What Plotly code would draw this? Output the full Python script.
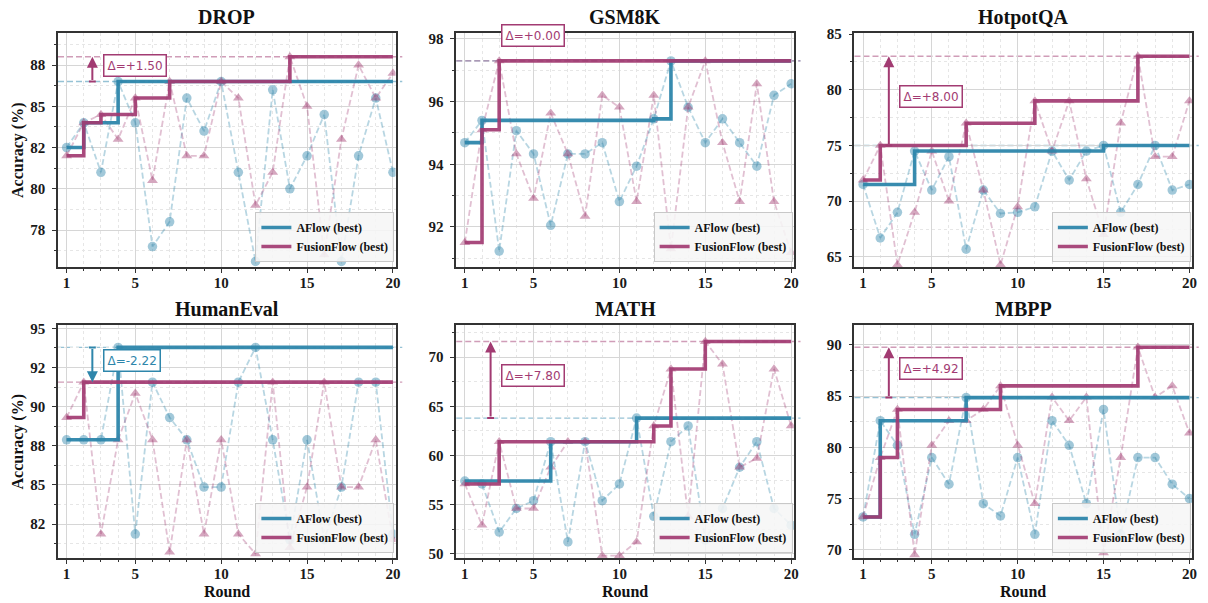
import numpy as np
import plotly.graph_objects as go

# ---------------- data ----------------
rounds = list(range(1, 21))
datasets = ["DROP", "GSM8K", "HotpotQA", "HumanEval", "MATH", "MBPP"]

drop_aflow = [82.5, 84.0, 81.0, 86.5, 84.0, 76.5, 78.0, 85.5, 83.5, 86.5,
              81.0, 75.6, 86.0, 80.0, 82.0, 84.5, 75.6, 82.0, 85.5, 81.0]
drop_fusion = [82.0, 84.0, 84.5, 83.0, 85.5, 80.5, 86.5, 82.0, 82.0, 86.5,
               85.5, 79.0, 81.0, 88.0, 85.0, 76.0, 83.0, 87.5, 85.5, 87.0]

gsm_aflow = [94.69, 95.40, 91.23, 95.07, 94.33, 92.05, 94.33, 94.33, 94.69, 92.81,
             93.94, 95.45, 97.30, 95.82, 94.69, 95.45, 94.69, 93.94, 96.20, 96.57]
gsm_fusion = [91.50, 95.10, 97.30, 94.33, 92.91, 95.63, 94.33, 92.34, 96.20, 95.82,
              92.81, 96.20, 91.30, 95.82, 97.30, 94.69, 92.81, 96.57, 92.81, 91.18]

hotpot_aflow = [71.5, 66.7, 69.0, 74.5, 71.0, 74.0, 65.7, 71.0, 68.9, 69.0,
                69.5, 74.5, 71.9, 74.5, 75.0, 69.0, 71.5, 75.0, 71.0, 71.5]
hotpot_fusion = [71.9, 75.0, 64.3, 69.0, 74.5, 70.0, 77.0, 71.0, 64.3, 69.5,
                 79.0, 74.5, 79.0, 72.0, 67.0, 77.0, 83.0, 74.0, 74.0, 79.0]

humaneval_aflow = [87.88, 87.88, 87.88, 93.78, 81.86, 91.56, 89.30, 87.88, 84.86, 84.86,
                   91.56, 93.78, 87.88, 81.50, 87.88, 81.50, 84.86, 91.56, 91.56, 81.86]
humaneval_fusion = [89.30, 91.56, 81.86, 87.88, 90.85, 87.88, 80.70, 87.88, 81.86, 87.88,
                    81.86, 80.60, 91.56, 81.00, 84.86, 91.56, 84.86, 84.86, 87.88, 81.50]

math_aflow = [57.4, 57.1, 52.2, 54.6, 55.4, 61.4, 51.2, 61.4, 55.4, 57.1,
              63.8, 53.8, 61.4, 63.0, 51.4, 54.6, 58.8, 61.4, 54.6, 52.9]
math_fusion = [57.1, 52.9, 61.4, 54.6, 54.6, 58.8, 61.4, 61.4, 49.8, 49.8,
               51.2, 63.0, 68.8, 53.8, 71.6, 69.3, 58.8, 59.7, 68.8, 63.0]

mbpp_aflow = [73.2, 82.6, 80.2, 71.5, 79.0, 76.4, 84.86, 74.5, 73.3, 79.0,
              71.5, 82.6, 80.2, 74.5, 83.7, 71.5, 79.0, 79.0, 76.4, 75.0]
mbpp_fusion = [73.2, 79.0, 83.7, 69.5, 80.2, 82.6, 82.6, 83.7, 86.0, 80.2,
               74.5, 84.9, 82.6, 84.9, 69.7, 79.0, 89.78, 84.9, 86.0, 81.4]

aflow_series = [drop_aflow, gsm_aflow, hotpot_aflow, humaneval_aflow, math_aflow, mbpp_aflow]
fusion_series = [drop_fusion, gsm_fusion, hotpot_fusion, humaneval_fusion, math_fusion, mbpp_fusion]

x_tick_labels = [1, 5, 10, 15, 20]

# ---------------- styling / layout ----------------
y_ranges = [(75.26, 89.44), (90.72, 98.19), (64.1, 85.09),
            (80.33, 95.21), (49.56, 73.28), (69.19, 91.95)]
y_steps = [2.5, 2.0, 5.0, 2.5, 5.0, 5.0]

BLUE = "#2E86AB"
PINK = "#A23B72"
BLUE_RGB = "46,134,171"
PINK_RGB = "162,59,114"
SERIF = "Liberation Serif"

W, H = 1208, 603
ml, mr, mt, mb = 58, 11, 33, 45
pw, ph = W - ml - mr, H - mt - mb
col_px = [(58, 397), (458, 797), (858, 1197)]
row_px = [(33, 267), (325, 558)]


def xdom(c):
    return [(col_px[c][0] - ml) / pw, (col_px[c][1] - ml) / pw]


def ydom(r):
    return [(H - mb - row_px[r][1]) / ph, (H - mb - row_px[r][0]) / ph]


fig = go.Figure()
layout = dict(
    width=W, height=H,
    margin=dict(l=ml, r=mr, t=mt, b=mb),
    paper_bgcolor="white", plot_bgcolor="white",
    font=dict(family=SERIF, color="#111"),
    annotations=[], shapes=[],
)

tick_font = dict(family=SERIF, size=15, color="#1a1a1a", weight="bold")

for i, name in enumerate(datasets):
    r, c = divmod(i, 3)
    s = "" if i == 0 else str(i + 1)
    xa, ya = "x" + s, "y" + s
    lg = "legend" if i == 0 else "legend" + str(i + 1)

    aflow = np.array(aflow_series[i], dtype=float)
    fusion = np.array(fusion_series[i], dtype=float)
    aflow_best = np.maximum.accumulate(aflow)
    fusion_best = np.maximum.accumulate(fusion)
    a_max = float(aflow_best[-1])
    f_max = float(fusion_best[-1])
    delta = round(f_max - a_max, 2)
    win_color = PINK if delta >= 0 else BLUE

    # raw (per-round) series
    fig.add_trace(go.Scatter(
        x=rounds, y=aflow, mode="lines+markers", xaxis=xa, yaxis=ya,
        line=dict(color=f"rgba({BLUE_RGB},0.34)", width=1.8, dash="6px,3px"),
        marker=dict(symbol="circle", size=9.5, color=f"rgba({BLUE_RGB},0.45)"),
        showlegend=False, hoverinfo="skip"))
    fig.add_trace(go.Scatter(
        x=rounds, y=fusion, mode="lines+markers", xaxis=xa, yaxis=ya,
        line=dict(color=f"rgba({PINK_RGB},0.32)", width=1.8, dash="6px,3px"),
        marker=dict(symbol="triangle-up", size=9.5, color=f"rgba({PINK_RGB},0.45)"),
        showlegend=False, hoverinfo="skip"))
    # best-so-far step lines
    fig.add_trace(go.Scatter(
        x=rounds, y=aflow_best, mode="lines", xaxis=xa, yaxis=ya,
        line=dict(color=BLUE, width=3.6, shape="hv"), opacity=0.95,
        name="AFlow (best)", legend=lg))
    fig.add_trace(go.Scatter(
        x=rounds, y=fusion_best, mode="lines", xaxis=xa, yaxis=ya,
        line=dict(color=PINK, width=3.6, shape="hv"), opacity=0.92,
        name="FusionFlow (best)", legend=lg))

    # reference lines at best values
    for val, rgb in ((a_max, BLUE_RGB), (f_max, PINK_RGB)):
        layout["shapes"].append(dict(
            type="line", xref=xa + " domain", yref=ya, x0=0, x1=1.02, y0=val, y1=val,
            line=dict(color=f"rgba({rgb},0.5)", width=1.4, dash="6px,3px"), layer="below"))

    # delta arrow
    if abs(delta) > 0:
        layout["annotations"].append(dict(
            x=2.5, y=f_max, ax=2.5, ay=a_max, xref=xa, yref=ya, axref=xa, ayref=ya,
            showarrow=True, arrowhead=2, arrowsize=1.1, arrowwidth=2, arrowcolor=win_color,
            text=""))
        layout["shapes"].append(dict(
            type="line", xref=xa, yref=ya, x0=2.3, x1=2.7, y0=a_max, y1=a_max,
            line=dict(color=win_color, width=2)))
    mid = (a_max + f_max) / 2
    layout["annotations"].append(dict(
        x=3.1, y=mid, xref=xa, yref=ya, xanchor="left", yanchor="middle",
        yshift=4 if abs(delta) > 0 else 25,
        text=f"Δ={delta:+.2f}", showarrow=False,
        font=dict(family="DejaVu Sans", size=12, color=win_color),
        bgcolor="white", bordercolor=win_color, borderwidth=1.5, borderpad=3))

    # subplot title
    layout["annotations"].append(dict(
        x=0.5, y=1, xref=xa + " domain", yref=ya + " domain", yshift=16,
        xanchor="center", yanchor="middle", showarrow=False,
        text=f"<b>{name}</b>", font=dict(family=SERIF, size=20, color="#111")))
    if c == 0:
        layout["annotations"].append(dict(
            x=0, y=0.5, xref=xa + " domain", yref=ya + " domain", xshift=-40,
            xanchor="center", yanchor="middle", textangle=-90, showarrow=False,
            text="<b>Accuracy (%)</b>", font=dict(family=SERIF, size=16, color="#111")))
    if r == 1:
        layout["annotations"].append(dict(
            x=0.5, y=0, xref=xa + " domain", yref=ya + " domain", yshift=-33,
            xanchor="center", yanchor="middle", showarrow=False,
            text="<b>Round</b>", font=dict(family=SERIF, size=16, color="#111")))

    # axes
    lo, hi = y_ranges[i]
    st = y_steps[i]
    major = np.arange(np.ceil(lo / st) * st, hi + 1e-9, st)
    minor = np.arange(np.ceil(lo / (st / 2)) * (st / 2), hi + 1e-9, st / 2)
    axis_common = dict(
        showline=True, linecolor="#333", linewidth=1.6, mirror=True,
        ticks="outside", ticklen=4, tickwidth=1.3, tickcolor="#333",
        showgrid=True, gridcolor="#d6d6d6", gridwidth=1, zeroline=False,
        tickfont=tick_font)
    layout["xaxis" + s] = dict(
        axis_common, domain=xdom(c), anchor=ya, range=[0.5, 20.15],
        tickmode="array", tickvals=x_tick_labels, ticktext=[str(v) for v in x_tick_labels],
        ticklabelstandoff=-3,
        minor=dict(tickmode="array", tickvals=rounds, ticks="outside", ticklen=2.5,
                   tickcolor="#333", showgrid=True, gridcolor="#e6e6e6", griddash="dot"))
    layout["yaxis" + s] = dict(
        axis_common, domain=ydom(r), anchor=xa, range=[lo, hi],
        tickmode="array", tickvals=list(major), ticktext=[f"{v:.0f}" for v in major],
        ticklabelstandoff=4,
        minor=dict(tickmode="array", tickvals=list(minor), ticks="outside", ticklen=2.5,
                   tickcolor="#333", showgrid=True, gridcolor="#e6e6e6", griddash="dot"))

    # legend per subplot, lower right
    xd, yd = xdom(c), ydom(r)
    layout[lg] = dict(
        x=xd[1] - 0.001, xanchor="right", y=yd[0] + 5 / ph, yanchor="bottom",
        bgcolor="rgba(246,246,246,0.88)", bordercolor="#c8c8c8", borderwidth=1,
        font=dict(family=SERIF, size=12, color="#111", weight="bold"),
        tracegroupgap=0, itemwidth=30)

fig.update_layout(**layout)
fig.write_html(
    "out.html",
    config={"displayModeBar": False},
    post_script="document.body.style.margin='0px'; document.body.style.overflow='hidden';",
)
